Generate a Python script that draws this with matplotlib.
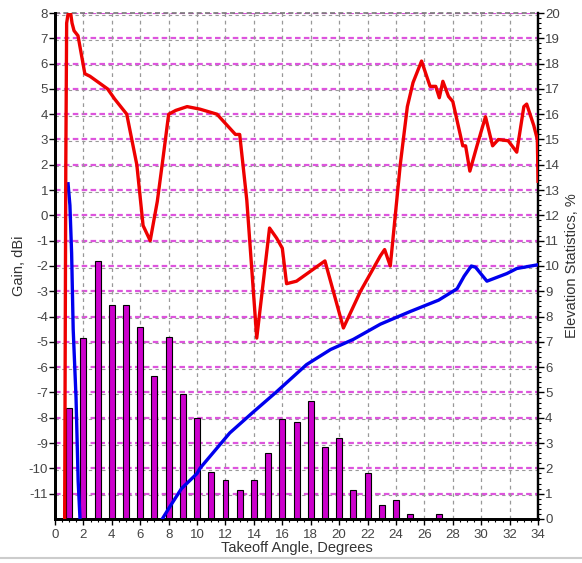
import matplotlib
matplotlib.use("Agg")
import matplotlib.pyplot as plt
from matplotlib.ticker import MultipleLocator
import numpy as np

plt.rcParams['font.family'] = ['Liberation Sans', 'DejaVu Sans']
plt.rcParams['axes.unicode_minus'] = False

# Elevation statistics (% of openings at each takeoff angle)
stat_angles = [1, 2, 3, 4, 5, 6, 7, 8, 9, 10, 11, 12, 13, 14, 15, 16, 17, 18,
               19, 20, 21, 22, 23, 24, 25, 27]
stat_percent = [4.4, 7.15, 10.2, 8.45, 8.45, 7.6, 5.65, 7.2, 4.95, 4.0, 1.85,
                1.55, 1.15, 1.55, 2.6, 3.95, 3.85, 4.65, 2.85, 3.2, 1.15, 1.8,
                0.55, 0.75, 0.2, 0.2]

# Antenna gain (red trace)
red_angle = [0.68, 0.76, 0.82, 0.9, 1.05, 1.2, 1.34, 1.62, 2.1, 2.46, 3.7, 4.2,
             5.05, 5.76, 6.2, 6.7, 7.2, 7.6, 8.0, 8.5, 9.3, 10.2, 11.4, 12.7,
             13.0, 13.5, 14.2, 15.1, 15.6, 16.0, 16.3, 17.0, 19.0, 20.3, 21.5,
             22.9, 23.2, 23.6, 24.3, 24.8, 25.2, 25.8, 26.4, 26.8, 27.05, 27.3,
             27.7, 28.0, 28.7, 28.9, 29.2, 29.7, 30.3, 30.8, 31.2, 31.9, 32.5,
             33.0, 33.2, 33.7, 33.95, 34.0]
red_gain = [-12.0, 2.0, 7.6, 7.9, 8.2, 7.6, 7.3, 7.1, 5.6, 5.5, 5.0, 4.6,
            4.0, 2.0, -0.4, -1.0, 0.55, 2.25, 4.0, 4.15, 4.3, 4.2, 4.0, 3.2,
            3.2, 0.6, -4.85, -0.5, -0.9, -1.3, -2.7, -2.6, -1.8, -4.45, -3.0,
            -1.6, -1.35, -2.0, 2.0, 4.3, 5.25, 6.1, 5.1, 5.1, 4.65, 5.3,
            4.7, 4.5, 2.75, 2.75, 1.75, 2.75, 3.9, 2.75, 3.0, 2.95, 2.5,
            4.3, 4.4, 3.55, 3.0, 1.35]

# Reference antenna gain (blue trace), low-angle lobe and main rise
blue_lobe_angle = [0.92, 1.05, 1.17, 1.28, 1.48, 1.63, 1.76]
blue_lobe_gain = [1.25, 0.4, -1.5, -4.5, -7.2, -10.5, -12.0]
blue_angle = [7.55, 8.1, 8.9, 10.0, 10.2, 12.3, 13.9, 15.6, 17.7, 19.4, 21.0,
              22.9, 25.0, 27.0, 28.3, 28.8, 29.3, 29.6, 30.4, 31.8, 32.5, 34.0]
blue_gain = [-12.0, -11.5, -10.8, -10.2, -10.0, -8.6, -7.8, -6.97, -5.9, -5.3,
             -4.9, -4.3, -3.8, -3.35, -2.9, -2.4, -2.0, -2.05, -2.6, -2.3, -2.1,
             -1.95]

gain_ticks = list(range(-11, 9))
stat_ticks = list(range(0, 21))
angle_ticks = list(range(0, 35, 2))

fig = plt.figure(figsize=(5.82, 5.63), dpi=100)
ax2 = fig.add_axes([0.0945, 0.0782, 0.83, 0.8987])
ax = ax2.twinx()
ax.yaxis.tick_left()
ax.yaxis.set_label_position('left')
ax2.yaxis.tick_right()
ax2.yaxis.set_label_position('right')
ax.set_zorder(ax2.get_zorder() + 1)
ax.patch.set_visible(False)

tick_color = '#444444'

# statistics bars on the right scale
ax2.set_xlim(0, 34)
ax2.set_ylim(0, 20)
for y in stat_ticks[1:]:
    ax2.axhline(y - 0.06, color='#999999', lw=0.8, ls=(0, (3, 3)), zorder=0)
    ax2.axhline(y, color='#dd55dd', lw=1.6, ls=(0, (2.5, 1.5)), zorder=0.5)
for x in angle_ticks[1:-1]:
    ax2.axvline(x, color='#999999', lw=0.9, ls=(0, (3, 3)), zorder=0.5)
ax2.bar(stat_angles, stat_percent, width=0.42, color='#cc00cc',
        edgecolor='black', linewidth=0.8, zorder=2)
ax2.set_yticks(stat_ticks)
ax2.yaxis.set_minor_locator(MultipleLocator(0.2))
ax2.tick_params(axis='y', which='major', length=4, width=1, colors='black',
                labelcolor=tick_color, labelsize=9.5, pad=1)
ax2.tick_params(axis='y', which='minor', length=2, width=0.8, colors='black')
ax2.set_ylabel('Elevation Statistics, %', fontsize=10.5, color='#333333',
               labelpad=4)

# gain traces on the left scale
ax.set_ylim(-12, 8)
ax.plot(red_angle, red_gain, color='#ee0000', lw=2.4, zorder=4,
        solid_joinstyle='round', clip_on=True)
ax.plot(blue_lobe_angle, blue_lobe_gain, color='#0000ee', lw=2.4, zorder=3)
ax.plot(blue_angle, blue_gain, color='#0000ee', lw=2.4, zorder=3)
ax.set_yticks(gain_ticks)
ax.tick_params(axis='y', length=4, width=1, colors='black',
               labelcolor=tick_color, labelsize=9.5, pad=1)
ax.set_ylabel('Gain, dBi', fontsize=10.5, color='#333333', labelpad=2)

ax2.set_xticks(angle_ticks)
ax2.xaxis.set_minor_locator(MultipleLocator(0.5))
ax2.tick_params(axis='x', which='major', length=4, width=1, colors='black',
                labelcolor=tick_color, labelsize=9.5, pad=3)
ax2.tick_params(axis='x', which='minor', length=2.5, width=0.8, colors='black')
ax.tick_params(axis='x', which='both', bottom=False, labelbottom=False)
ax2.set_xlabel('Takeoff Angle, Degrees', fontsize=10.5, color='#333333',
               labelpad=0)

for a in (ax, ax2):
    a.spines['left'].set_linewidth(2.0)
    a.spines['bottom'].set_linewidth(2.0)
    a.spines['right'].set_linewidth(1.6)
    a.spines['top'].set_visible(False)
ax2.axhline(20, color='#777777', lw=1.2, ls=(0, (3, 2)), zorder=0.5,
            clip_on=False)

# thin frame line along the foot of the figure
fig.add_artist(plt.Line2D([0, 1], [0.009, 0.009], color='#cccccc', lw=1.5,
                          transform=fig.transFigure))

fig.savefig('out.png', dpi=100)
